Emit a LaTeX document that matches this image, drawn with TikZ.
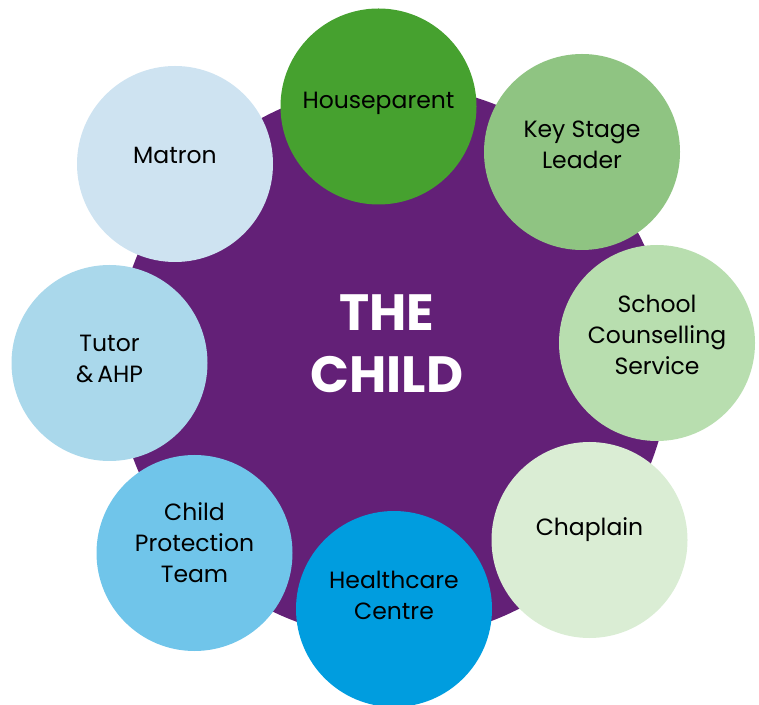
\documentclass[tikz,border=0pt]{standalone}
\usepackage{fontspec}
\setmainfont{Poppins}
\begin{document}
\begin{tikzpicture}[x=1pt,y=1pt,
  bubble/.style={circle, minimum size=196pt, inner sep=0pt, draw=none},
  lbl/.style={align=center, font=\fontsize{23.5}{31}\selectfont, text=black},
  core/.style={circle, minimum size=554pt, inner sep=0pt, fill=childpurple, draw=none},
  corelbl/.style={align=center, text=white, font=\fontsize{51}{62}\selectfont\bfseries}
]
\definecolor{childpurple}{HTML}{632077}
\definecolor{cHouse}{HTML}{46A12F}
\definecolor{cKey}{HTML}{8FC482}
\definecolor{cSchool}{HTML}{B8DEAF}
\definecolor{cChap}{HTML}{DAEDD4}
\definecolor{cHealth}{HTML}{009DDF}
\definecolor{cCPT}{HTML}{70C5EA}
\definecolor{cTutor}{HTML}{AAD8EB}
\definecolor{cMatron}{HTML}{CEE3F1}
\useasboundingbox (0,0) rectangle (759,704);

% central circle
\node[core] (child) at (393,342) {};
\node[corelbl] (child-t) at ([xshift=-6pt,yshift=18pt]child.center) {THE\\CHILD};

% surrounding circles
\node[bubble, fill=cHouse]  (hp)  at (378.5,597.5) {};
\node[bubble, fill=cKey]    (ksl) at (582,552) {};
\node[bubble, fill=cSchool] (scs) at (657,361) {};
\node[bubble, fill=cChap]   (chp) at (589.5,164) {};
\node[bubble, fill=cHealth] (hc)  at (394,95) {};
\node[bubble, fill=cCPT]    (cpt) at (194.5,151) {};
\node[bubble, fill=cTutor]  (tut) at (109.5,341) {};
\node[bubble, fill=cMatron] (mat) at (175,540) {};

% labels
\node[lbl] (hp-t)  at ([yshift=3pt]hp.center)   {Houseparent};
\node[lbl] (ksl-t) at ([yshift=7pt]ksl.center)  {Key Stage\\Leader};
\node[lbl] (scs-t) at ([yshift=8pt]scs.center)  {School\\Counselling\\Service};
\node[lbl] (chp-t) at ([yshift=10pt]chp.center) {Chaplain};
\node[lbl] (hc-t)  at ([yshift=14pt]hc.center)  {Healthcare\\Centre};
\node[lbl] (cpt-t) at ([yshift=10pt]cpt.center) {Child\\Protection\\Team};
\node[lbl] (tut-t) at ([yshift=4pt]tut.center)  {Tutor\\\&\,AHP};
\node[lbl] (mat-t) at ([yshift=9pt]mat.center)  {Matron};
\end{tikzpicture}
\end{document}
